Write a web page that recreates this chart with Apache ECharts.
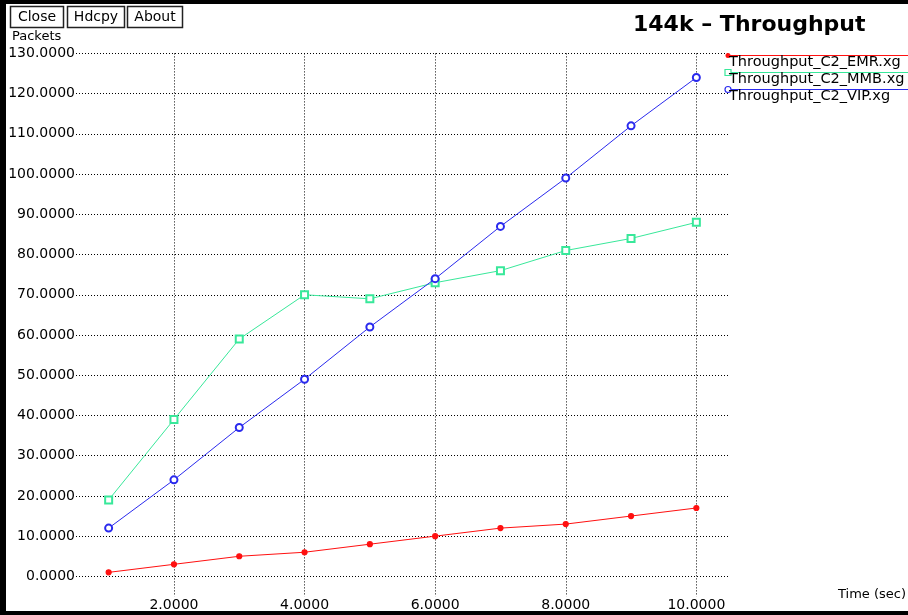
<!DOCTYPE html>
<html>
<head>
<meta charset="utf-8">
<script src="https://cdn.jsdelivr.net/npm/echarts@6/dist/echarts.min.js"></script>
<style>
html,body{margin:0;padding:0;background:#fff;}
#chart{width:908px;height:615px;}
</style>
</head>
<body>
<div id="chart"></div>
<script>
// ---- data ----
var timeValues = [1, 2, 3, 4, 5, 6, 7, 8, 9, 10];
var seriesNames = ['Throughput_C2_EMR.xg', 'Throughput_C2_MMB.xg', 'Throughput_C2_VIP.xg'];
var emrValues = [1, 3, 5, 6, 8, 10, 12, 13, 15, 17];
var mmbValues = [19, 39, 59, 70, 69, 73, 76, 81, 84, 88];
var vipValues = [12, 24, 37, 49, 62, 74, 87, 99, 112, 124];
var xTicks = [2, 4, 6, 8, 10];
var yTicks = [0, 10, 20, 30, 40, 50, 60, 70, 80, 90, 100, 110, 120, 130];
var titleText = '144k \u2013 Throughput';
var yAxisTitle = 'Packets';
var xAxisTitle = 'Time (sec)';
var buttonLabels = ['Close', 'Hdcpy', 'About'];

var colors = ['#ff1010', '#38e89a', '#2a2aee'];
var symbols = ['circle', 'emptyRect', 'emptyCircle'];
var symbolSizes = [5, 7, 7];
var FONT = 'DejaVu Sans';

function pair(vals) {
  return timeValues.map(function (t, i) { return [t, vals[i]]; });
}
var allValues = [emrValues, mmbValues, vipValues];

var series = seriesNames.map(function (name, i) {
  return {
    name: name,
    type: 'line',
    data: pair(allValues[i]),
    symbol: symbols[i],
    symbolSize: symbolSizes[i],
    showAllSymbol: true,
    lineStyle: { color: colors[i], width: 1 },
    itemStyle: { color: colors[i], borderColor: colors[i], borderWidth: 1.2 },
    emphasis: { disabled: true },
    animation: false,
    z: 3 + i
  };
});

// graphic decorations: frame, buttons, legend
var graphic = [];
graphic.push({ type: 'rect', left: 0, top: 0, shape: { width: 908, height: 4 }, style: { fill: '#000' }, z: 100 });
graphic.push({ type: 'rect', left: 0, top: 0, shape: { width: 6, height: 615 }, style: { fill: '#000' }, z: 100 });
graphic.push({ type: 'rect', left: 0, top: 611, shape: { width: 908, height: 4 }, style: { fill: '#000' }, z: 100 });
var btnX = [10, 67, 127];
var btnW = [53, 57, 55];
buttonLabels.forEach(function (lbl, i) {
  graphic.push({
    type: 'rect', shape: { x: btnX[i] + 0.5, y: 6.5, width: btnW[i], height: 21 },
    style: { fill: '#fff', stroke: '#222', lineWidth: 1.5 }, z: 100
  });
  graphic.push({
    type: 'text', x: btnX[i] + btnW[i] / 2 + 0.5, y: 17.5,
    style: { text: lbl, fill: '#000', font: '14px "' + FONT + '"', align: 'center', verticalAlign: 'middle' }, z: 101
  });
});
graphic.push({ type: 'text', x: 12, y: 37, style: { text: yAxisTitle, fill: '#000', font: '13px "' + FONT + '"', verticalAlign: 'middle' }, z: 100 });
graphic.push({ type: 'text', x: 906, y: 595, style: { text: xAxisTitle, fill: '#000', font: '13px "' + FONT + '"', align: 'right', verticalAlign: 'middle' }, z: 100 });
graphic.push({ type: 'text', x: 633, y: 25, style: { text: titleText, fill: '#000', font: 'bold 22px "' + FONT + '"', verticalAlign: 'middle' }, z: 100 });
var legY = [55, 72, 89];
seriesNames.forEach(function (name, i) {
  graphic.push({ type: 'line', shape: { x1: 727, y1: legY[i] + 0.5, x2: 908, y2: legY[i] + 0.5 }, style: { stroke: colors[i], lineWidth: 1.2 }, z: 100 });
  var sym;
  if (i === 0) sym = { type: 'circle', shape: { cx: 728, cy: legY[i] + 0.5, r: 2.5 }, style: { fill: colors[i] }, z: 101 };
  else if (i === 1) sym = { type: 'rect', shape: { x: 725, y: legY[i] - 2.5, width: 6, height: 6 }, style: { fill: '#fff', stroke: colors[i], lineWidth: 1.2 }, z: 101 };
  else sym = { type: 'circle', shape: { cx: 728, cy: legY[i] + 0.5, r: 3 }, style: { fill: '#fff', stroke: colors[i], lineWidth: 1.2 }, z: 101 };
  graphic.push(sym);
  graphic.push({ type: 'text', x: 729, y: legY[i] + 7, style: { text: name, fill: '#000', font: '14.5px "' + FONT + '"', verticalAlign: 'middle' }, z: 102 });
});

var dotted = { color: '#000', width: 1, type: [1, 2] };

var option = {
  backgroundColor: '#fff',
  animation: false,
  grid: { left: 76, right: 179, top: 53.4, bottom: 18.5, containLabel: false },
  xAxis: {
    type: 'value', min: 0.5, max: 10.5,
    axisLine: { show: false },
    axisTick: { show: false, customValues: xTicks },
    splitLine: { show: true, lineStyle: dotted },
    axisLabel: {
      customValues: xTicks, margin: 2, color: '#000', fontFamily: FONT, fontSize: 14,
      formatter: function (v) { return v.toFixed(4); }
    }
  },
  yAxis: {
    type: 'value', min: -5, max: 130,
    axisLine: { show: false },
    axisTick: { show: false, customValues: yTicks },
    splitLine: { show: true, lineStyle: dotted },
    axisLabel: {
      customValues: yTicks, margin: 1, color: '#000', fontFamily: FONT, fontSize: 14,
      formatter: function (v) { return v.toFixed(4); }
    }
  },
  graphic: graphic,
  series: series
};

var chart = echarts.init(document.getElementById('chart'), null, { renderer: 'canvas' });
chart.setOption(option);
</script>
</body>
</html>
